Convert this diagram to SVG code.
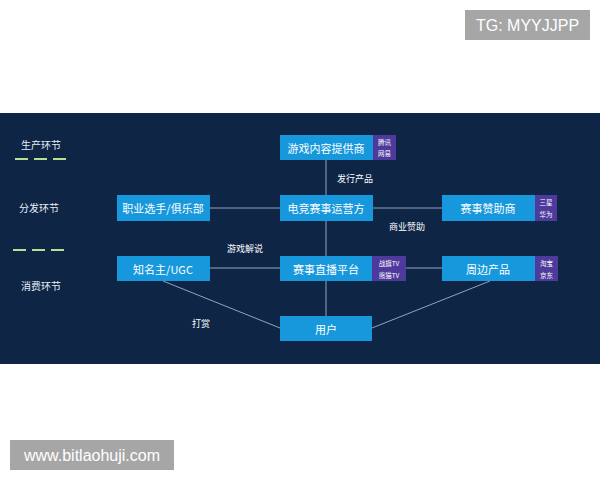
<svg xmlns="http://www.w3.org/2000/svg" width="600" height="480" viewBox="0 0 600 480">
<style>
.node{fill:#1898dc}
.tag{fill:#4e3a9c}
.nt{font-family:"Noto Sans CJK SC","Noto Sans",sans-serif;font-size:11px;fill:#ffffff;text-anchor:middle;dominant-baseline:central}
.tt{font-family:"Noto Sans CJK SC","Noto Sans",sans-serif;font-size:6.5px;fill:#ffffff;text-anchor:middle;dominant-baseline:central}
.lb{font-family:"Noto Sans CJK SC","Noto Sans",sans-serif;font-size:9px;fill:#ffffff;text-anchor:middle;dominant-baseline:central}
.side{font-family:"Noto Sans CJK SC","Noto Sans",sans-serif;font-size:10px;fill:#e8eef5;text-anchor:middle;dominant-baseline:central}
.con{stroke:#8fa6bd;stroke-width:1;fill:none}
.dash{stroke:#b5e08f;stroke-width:2;stroke-dasharray:13,6}
.wm{font-family:"Liberation Sans",Arial,sans-serif;font-size:16px;fill:#ffffff;text-anchor:middle;dominant-baseline:central}
</style>
<rect width="600" height="480" fill="#ffffff"/>
<rect x="0" y="113" width="600" height="251" fill="#0e2546"/>
<g id="legend">
<text class="side" x="41" y="144">生产环节</text>
<line class="dash" x1="15" y1="159" x2="72" y2="159"/>
<text class="side" x="39" y="207">分发环节</text>
<line class="dash" x1="13" y1="250" x2="70" y2="250"/>
<text class="side" x="41" y="285">消费环节</text>
</g>
<g id="connectors">
<line class="con" x1="326" y1="160" x2="326" y2="316"/>
<line class="con" x1="210" y1="208" x2="280" y2="208"/>
<line class="con" x1="373" y1="208" x2="442" y2="208"/>
<line class="con" x1="210" y1="268" x2="280" y2="268"/>
<line class="con" x1="406" y1="268" x2="442" y2="268"/>
<line class="con" x1="163" y1="281" x2="280" y2="328"/>
<line class="con" x1="490" y1="281" x2="372" y2="328"/>
<text class="lb" x="355" y="178">发行产品</text>
<text class="lb" x="407" y="226">商业赞助</text>
<text class="lb" x="245" y="248">游戏解说</text>
<text class="lb" x="201" y="323">打赏</text>
</g>
<g id="n-provider">
<rect class="node" x="280" y="135" width="93" height="25"/>
<text class="nt" x="326" y="147.5">游戏内容提供商</text>
<rect class="tag" x="373" y="135" width="23" height="25"/>
<text class="tt" x="384.5" y="142">腾讯</text>
<text class="tt" x="384.5" y="153">网易</text>
</g>
<g id="n-operator">
<rect class="node" x="280" y="195" width="93" height="26"/>
<text class="nt" x="326" y="208">电竞赛事运营方</text>
</g>
<g id="n-player">
<rect class="node" x="117" y="195" width="93" height="26"/>
<text class="nt" x="163" y="208">职业选手/俱乐部</text>
</g>
<g id="n-sponsor">
<rect class="node" x="442" y="195" width="93" height="26"/>
<text class="nt" x="488" y="208">赛事赞助商</text>
<rect class="tag" x="535" y="195" width="22" height="26"/>
<text class="tt" x="546" y="202">三星</text>
<text class="tt" x="546" y="214">华为</text>
</g>
<g id="n-ugc">
<rect class="node" x="117" y="256" width="93" height="25"/>
<text class="nt" x="163" y="268.5">知名主/UGC</text>
</g>
<g id="n-live">
<rect class="node" x="280" y="256" width="92" height="25"/>
<text class="nt" x="326" y="268.5">赛事直播平台</text>
<rect class="tag" x="372" y="256" width="34" height="25"/>
<text class="tt" x="389" y="262.5">战旗TV</text>
<text class="tt" x="389" y="274.5">熊猫TV</text>
</g>
<g id="n-merch">
<rect class="node" x="442" y="256" width="93" height="25"/>
<text class="nt" x="488" y="268.5">周边产品</text>
<rect class="tag" x="535" y="256" width="23" height="25"/>
<text class="tt" x="546.5" y="262.5">淘宝</text>
<text class="tt" x="546.5" y="274.5">京东</text>
</g>
<g id="n-user">
<rect class="node" x="280" y="316" width="92" height="25"/>
<text class="nt" x="326" y="328.5">用户</text>
</g>
<g id="watermarks">
<rect x="465" y="10" width="125" height="30" fill="#a6a6a6"/>
<text class="wm" x="527.5" y="25">TG: MYYJJPP</text>
<rect x="10" y="440" width="164" height="30" fill="#a6a6a6"/>
<text class="wm" x="92" y="455">www.bitlaohuji.com</text>
</g>
</svg>
